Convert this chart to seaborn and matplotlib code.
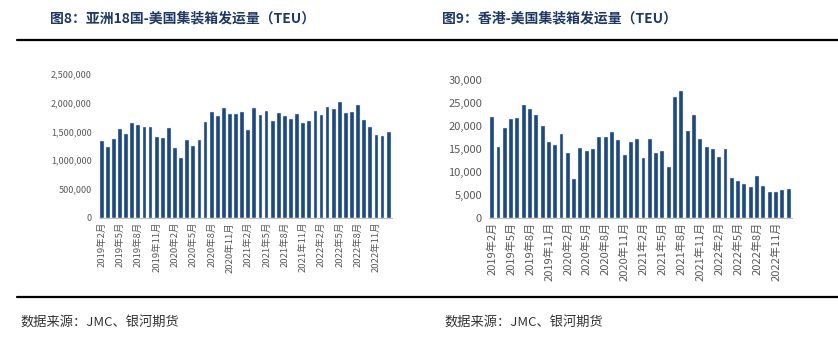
import matplotlib
matplotlib.use("Agg")
import matplotlib.pyplot as plt
from matplotlib.lines import Line2D
from matplotlib.ticker import FuncFormatter, FixedLocator
import seaborn as sns
import pandas as pd

sns.set_style("white")
plt.rcParams['font.family'] = ['Noto Sans CJK SC', 'DejaVu Sans']

# months 2019-02 .. 2023-01
months = [f"{y}年{m}月" for y in range(2019, 2024) for m in range(1, 13)][1:49]

asia18_us = [1330000, 1230000, 1370000, 1535000, 1454000, 1655000, 1615000, 1570000,
             1580000, 1408000, 1390000, 1552000, 1211000, 1031000, 1344000, 1246000,
             1346000, 1662000, 1831000, 1773000, 1912000, 1806000, 1796000, 1842000,
             1528000, 1912000, 1779000, 1852000, 1680000, 1824000, 1766000, 1721000,
             1800000, 1645000, 1674000, 1852000, 1788000, 1922000, 1898000, 2008000,
             1824000, 1842000, 1968000, 1708000, 1582000, 1437000, 1419000, 1487000]

hk_us = [22000, 15500, 19600, 21400, 21700, 24600, 23700, 22400, 19900, 16600, 15900, 18200,
         14200, 8400, 15200, 14600, 14900, 17600, 17500, 18700, 17000, 13700, 16400, 17200,
         12900, 17100, 14100, 14600, 11000, 26200, 27600, 18800, 22400, 17100, 15300, 14900,
         13300, 15000, 8600, 8000, 7400, 6700, 9000, 6900, 5700, 5700, 6100, 6300]

titles = ["图8：亚洲18国-美国集装箱发运量（TEU）", "图9：香港-美国集装箱发运量（TEU）"]
source = "数据来源：JMC、银河期货"

W, H = 838, 340
fig = plt.figure(figsize=(W / 100, H / 100), dpi=100)

bar_color = "#1F497D"
gray = "#595959"


def fx(px):
    return px / W


def fy(py):
    return 1 - py / H


def draw(ax, vals, ymax, ystep, fs_y, fs_x):
    df = pd.DataFrame({"month": months, "value": vals})
    sns.barplot(data=df, x="month", y="value", color=bar_color, ax=ax,
                width=0.62, saturation=1, edgecolor="#DCE6F1", linewidth=0.3)
    n = len(vals)
    ax.set_xlim(-0.5, n - 0.5)
    ax.set_ylim(0, ymax)
    ax.set_xlabel("")
    ax.set_ylabel("")
    ax.yaxis.set_major_locator(FixedLocator(list(range(0, ymax + 1, ystep))))
    ax.yaxis.set_major_formatter(FuncFormatter(lambda v, p: f"{int(v):,}"))
    pos = list(range(0, n, 3))
    ax.xaxis.set_major_locator(FixedLocator(pos))
    ax.set_xticklabels([months[i] for i in pos], rotation=90, fontsize=fs_x, color=gray)
    ax.xaxis.set_minor_locator(FixedLocator([p - 0.5 for p in range(0, n + 1, 3)]))
    ax.tick_params(axis="x", which="major", length=0, pad=3)
    ax.tick_params(axis="x", which="minor", length=4, color="#BFBFBF", width=0.8)
    ax.tick_params(axis="y", length=0, labelsize=fs_y, labelcolor=gray, pad=5)
    for s in ["top", "right", "left"]:
        ax.spines[s].set_visible(False)
    ax.spines["bottom"].set_color("#BFBFBF")
    ax.spines["bottom"].set_linewidth(0.8)
    ax.grid(False)


ax1 = fig.add_axes([fx(98.7), fy(217.7), fx(391.7 - 98.7), (217.7 - 74) / H])
draw(ax1, asia18_us, 2500000, 500000, 6.5, 6.8)

ax2 = fig.add_axes([fx(489), fy(217.7), fx(791.7 - 489), (217.7 - 80) / H])
draw(ax2, hk_us, 30000, 5000, 8, 8)

# titles
fig.text(fx(50), fy(18), titles[0], fontsize=10, fontweight="bold", color="#1F3864",
         va="center", ha="left")
fig.text(fx(442), fy(18), titles[1], fontsize=10, fontweight="bold", color="#1F3864",
         va="center", ha="left")

# horizontal rules
fig.add_artist(Line2D([fx(17), 1.0], [fy(39.5), fy(39.5)], color="black", linewidth=1.6))
fig.add_artist(Line2D([fx(17), 1.0], [fy(296.5), fy(296.5)], color="black", linewidth=1.6))

# source notes
fig.text(fx(20), fy(323), source, fontsize=9.5, color="#333333", va="center", ha="left")
fig.text(fx(444), fy(323), source, fontsize=9.5, color="#333333", va="center", ha="left")

fig.savefig("out.png", dpi=100)
